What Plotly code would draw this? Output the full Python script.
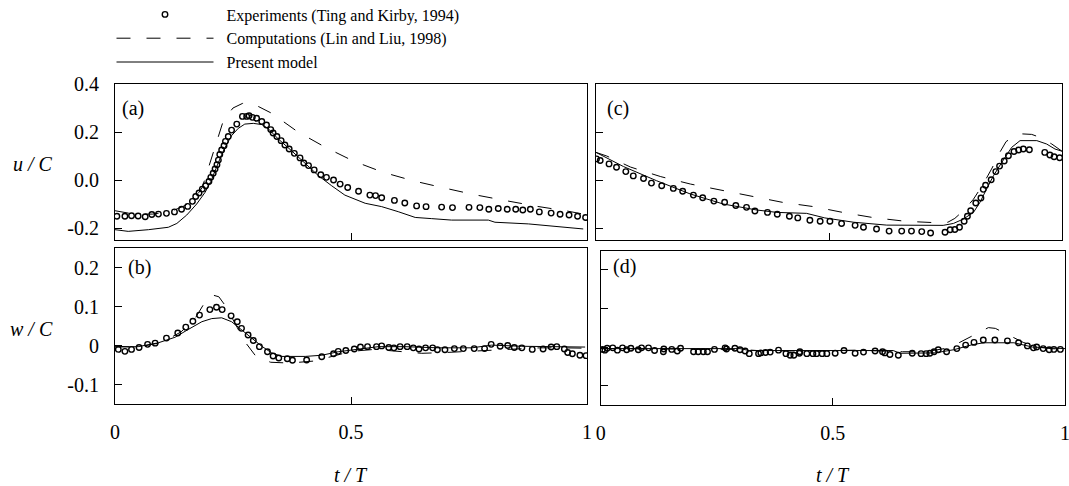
import plotly.graph_objects as go

# ---------------- data ----------------
# Panel (a): u/C, left
t_exp_a = [0.004,0.021,0.035,0.049,0.064,0.078,0.092,0.109,0.126,0.141,0.154,0.164,0.171,0.178,0.185,0.192,0.199,0.203,0.208,0.212,0.216,0.219,0.222,0.226,0.231,0.234,0.240,0.247,0.258,0.270,0.279,0.284,0.291,0.300,0.311,0.321,0.330,0.335,0.343,0.352,0.360,0.369,0.380,0.392,0.400,0.410,0.422,0.436,0.448,0.463,0.477,0.493,
           0.516,0.540,0.552,0.565,0.592,0.614,0.639,0.659,0.692,0.715,0.750,0.773,0.792,0.812,0.831,0.849,0.864,0.880,0.899,0.924,0.943,0.962,0.980,0.997]
u_exp_a = [-0.151,-0.151,-0.149,-0.150,-0.153,-0.144,-0.142,-0.139,-0.133,-0.122,-0.110,-0.089,-0.069,-0.054,-0.038,-0.024,-0.006,0.011,0.028,0.046,0.064,0.083,0.106,0.125,0.143,0.161,0.181,0.208,0.233,0.265,0.265,0.268,0.261,0.257,0.244,0.229,0.210,0.196,0.181,0.164,0.146,0.129,0.111,0.092,0.071,0.060,0.042,0.022,0.011,0.000,-0.017,-0.031,
           -0.047,-0.063,-0.065,-0.074,-0.085,-0.096,-0.108,-0.111,-0.113,-0.115,-0.114,-0.115,-0.122,-0.119,-0.122,-0.122,-0.125,-0.122,-0.133,-0.138,-0.143,-0.146,-0.151,-0.156]
t_lin_a = [0.0,0.04,0.08,0.12,0.15,0.175,0.185,0.195,0.205,0.215,0.23,0.25,0.27,0.285,0.30,0.332,0.387,0.446,0.505,0.568,0.633,0.697,0.761,0.828,0.895,0.957,1.0]
u_lin_a = [-0.128,-0.142,-0.142,-0.130,-0.105,-0.060,-0.030,0.030,0.100,0.160,0.250,0.300,0.319,0.322,0.310,0.278,0.201,0.136,0.079,0.032,-0.004,-0.033,-0.061,-0.086,-0.110,-0.129,-0.145]
t_mod_a = [0.0,0.028,0.071,0.113,0.131,0.152,0.173,0.191,0.203,0.215,0.226,0.237,0.247,0.261,0.275,0.293,0.311,0.325,0.346,0.374,0.403,0.431,0.459,0.487,0.530,0.565,0.600,0.636,0.671,0.713,0.791,0.805,0.876,0.939,0.992]
u_mod_a = [-0.207,-0.214,-0.207,-0.197,-0.181,-0.146,-0.100,-0.051,-0.006,0.053,0.106,0.150,0.185,0.215,0.233,0.236,0.231,0.213,0.171,0.122,0.067,0.018,-0.024,-0.063,-0.097,-0.111,-0.132,-0.156,-0.161,-0.167,-0.167,-0.176,-0.183,-0.194,-0.204]

# Panel (b): w/C, left
t_exp_b = [0.007,0.021,0.035,0.051,0.069,0.085,0.109,0.133,0.150,0.165,0.179,0.201,0.215,0.227,0.246,0.259,0.268,0.282,0.293,0.306,0.323,0.335,0.347,0.365,0.376,0.406,0.438,0.463,0.473,0.489,0.507,0.520,0.535,0.554,0.565,0.580,0.591,0.604,0.619,0.632,0.644,0.658,0.673,0.683,0.699,0.719,0.738,0.761,0.783,0.797,0.816,0.832,0.846,0.862,0.884,0.907,0.924,0.936,0.952,0.959,0.969,0.985,0.998]
w_exp_b = [-0.010,-0.015,-0.010,-0.005,0.003,0.006,0.019,0.032,0.047,0.062,0.078,0.092,0.098,0.092,0.076,0.061,0.044,0.027,0.013,-0.003,-0.016,-0.027,-0.032,-0.034,-0.038,-0.037,-0.029,-0.021,-0.015,-0.013,-0.009,-0.004,-0.003,-0.003,-0.001,-0.005,-0.006,-0.003,-0.003,-0.006,-0.009,-0.006,-0.006,-0.011,-0.011,-0.008,-0.008,-0.008,-0.008,0.003,-0.002,0.000,-0.005,-0.006,-0.010,-0.009,-0.004,-0.003,-0.009,-0.018,-0.021,-0.025,-0.026]
t_lin_b = [0.0,0.05,0.10,0.14,0.17,0.19,0.205,0.22,0.235,0.255,0.275,0.30,0.33,0.37,0.42,0.46,0.50,0.55,0.60,0.65,0.70,0.75,0.80,0.85,0.90,0.95,1.0]
w_lin_b = [-0.002,-0.004,0.008,0.035,0.070,0.110,0.130,0.125,0.100,0.055,0.010,-0.030,-0.043,-0.045,-0.040,-0.028,-0.015,-0.010,-0.015,-0.020,-0.018,-0.015,-0.012,-0.008,-0.006,-0.006,-0.007]
t_mod_b = [0.0,0.049,0.092,0.127,0.155,0.184,0.205,0.226,0.247,0.268,0.290,0.311,0.332,0.353,0.403,0.438,0.473,0.516,0.558,0.614,0.685,0.756,0.798,0.862,0.932,0.996]
w_mod_b = [-0.004,-0.003,0.007,0.021,0.041,0.061,0.069,0.071,0.061,0.041,0.020,-0.002,-0.019,-0.028,-0.028,-0.025,-0.016,-0.009,-0.003,-0.003,-0.006,-0.006,0.001,-0.002,-0.003,-0.004]

# Panel (c): u/C, right
t_exp_c = [0.001,0.009,0.028,0.044,0.064,0.080,0.102,0.119,0.141,0.166,0.186,0.209,0.229,0.253,0.276,0.300,0.323,0.341,0.368,0.389,0.415,0.433,0.459,0.481,
           0.502,0.527,0.556,0.574,0.602,0.629,0.656,0.677,0.699,0.718,0.749,0.760,0.770,0.780,0.790,0.797,0.804,0.815,0.826,0.831,0.836,0.848,0.858,0.866,0.876,0.885,0.897,0.907,0.917,0.930,0.963,0.974,0.983,0.995]
u_exp_c = [0.088,0.081,0.067,0.053,0.035,0.017,0.006,-0.013,-0.024,-0.035,-0.047,-0.063,-0.074,-0.088,-0.093,-0.106,-0.114,-0.129,-0.135,-0.143,-0.151,-0.158,-0.168,-0.172,
           -0.172,-0.181,-0.189,-0.197,-0.204,-0.213,-0.213,-0.213,-0.215,-0.221,-0.218,-0.207,-0.206,-0.197,-0.172,-0.151,-0.128,-0.096,-0.075,-0.039,-0.022,0.001,0.035,0.058,0.079,0.101,0.119,0.125,0.129,0.126,0.115,0.104,0.097,0.093]
t_lin_c = [0.0,0.023,0.074,0.139,0.203,0.271,0.335,0.400,0.467,0.532,0.596,0.664,0.730,0.755,0.770,0.790,0.810,0.830,0.850,0.865,0.880,0.900,0.915,0.935,0.955,0.978,1.0]
u_lin_c = [0.115,0.100,0.054,0.014,-0.017,-0.044,-0.069,-0.093,-0.111,-0.136,-0.157,-0.172,-0.178,-0.176,-0.160,-0.125,-0.080,-0.020,0.050,0.110,0.160,0.186,0.192,0.190,0.176,0.150,0.120]
t_mod_c = [0.0,0.059,0.130,0.202,0.273,0.345,0.388,0.452,0.491,0.553,0.624,0.695,0.745,0.767,0.788,0.810,0.824,0.838,0.853,0.871,0.892,0.910,0.946,0.967,0.985,1.0]
u_mod_c = [0.115,0.056,-0.003,-0.058,-0.100,-0.125,-0.135,-0.139,-0.158,-0.176,-0.188,-0.190,-0.189,-0.181,-0.163,-0.135,-0.093,-0.038,0.018,0.074,0.136,0.164,0.164,0.150,0.129,0.120]

# Panel (d): w/C, right
t_exp_d = [0.004,0.009,0.014,0.026,0.036,0.047,0.056,0.065,0.081,0.088,0.103,0.116,0.135,0.136,0.153,0.165,0.172,0.200,0.210,0.221,0.230,0.245,0.268,0.271,0.289,0.300,0.311,0.320,0.340,0.345,0.355,0.365,0.383,0.399,0.408,0.416,0.428,0.429,0.444,0.457,0.465,0.477,0.487,0.505,0.524,0.548,0.566,0.591,0.607,0.612,0.623,0.641,0.671,0.690,0.701,0.709,0.718,0.727,0.745,0.767,0.786,0.804,0.824,0.849,0.876,0.900,0.919,0.932,0.939,0.953,0.966,0.976,0.990]
w_exp_d = [-0.006,-0.008,-0.003,-0.002,-0.008,-0.002,-0.007,-0.003,-0.007,-0.002,-0.002,-0.009,-0.012,-0.005,-0.006,-0.010,-0.003,-0.012,-0.012,-0.012,-0.012,-0.006,-0.002,-0.005,-0.003,-0.007,-0.010,-0.017,-0.017,-0.015,-0.014,-0.013,-0.008,-0.017,-0.021,-0.021,-0.016,-0.012,-0.017,-0.017,-0.017,-0.017,-0.017,-0.016,-0.009,-0.016,-0.013,-0.010,-0.012,-0.015,-0.019,-0.021,-0.016,-0.017,-0.017,-0.016,-0.012,-0.007,-0.012,-0.004,0.005,0.012,0.018,0.018,0.016,0.011,0.003,-0.002,0.000,-0.004,-0.007,-0.006,-0.006]
t_lin_d = [0.0,0.10,0.30,0.35,0.45,0.55,0.65,0.70,0.74,0.77,0.80,0.835,0.85,0.88,0.91,0.94,0.97,1.0]
w_lin_d = [-0.004,-0.005,-0.006,-0.010,-0.010,-0.008,-0.012,-0.012,-0.004,0.010,0.028,0.050,0.048,0.030,0.012,0.000,-0.004,-0.006]
t_mod_d = [0.0,0.30,0.32,0.63,0.645,0.72,0.76,0.80,0.825,0.89,0.93,0.97,1.0]
w_mod_d = [-0.004,-0.004,-0.009,-0.009,-0.016,-0.015,-0.007,0.006,0.011,0.011,0.000,-0.003,-0.004]

x_tickvals = [0, 0.5, 1]
x_ticktext = ["0", "0.5", "1"]
u_tickvals = [0.4, 0.2, 0.0, -0.2]
u_ticktext = ["0.4", "0.2", "0.0", "-0.2"]
w_tickvals = [0.2, 0.1, 0.0, -0.1]
w_ticktext = ["0.2", "0.1", "0", "-0.1"]

names = ["Experiments (Ting and Kirby, 1994)", "Computations (Lin and Liu, 1998)", "Present model"]

# ---------------- figure ----------------
W, H = 1069, 486
SERIF = "Liberation Serif, Times New Roman, serif"
NB = "\u00a0\u00a0"

def px_x(a, b):
    return [a / W, b / W]

def px_y(top, bottom):
    return [1 - bottom / H, 1 - top / H]

fig = go.Figure()

panels = [
    ("x", "y", t_exp_a, u_exp_a, t_lin_a, u_lin_a, t_mod_a, u_mod_a, True),
    ("x2", "y2", t_exp_b, w_exp_b, t_lin_b, w_lin_b, t_mod_b, w_mod_b, False),
    ("x3", "y3", t_exp_c, u_exp_c, t_lin_c, u_lin_c, t_mod_c, u_mod_c, False),
    ("x4", "y4", t_exp_d, w_exp_d, t_lin_d, w_lin_d, t_mod_d, w_mod_d, False),
]

for xa, ya, te, ve, tl, vl, tm, vm, show in panels:
    fig.add_trace(go.Scatter(x=tm, y=vm, mode="lines", xaxis=xa, yaxis=ya,
                             line=dict(color="black", width=1), name=NB + names[2],
                             showlegend=show, legendrank=3))
    fig.add_trace(go.Scatter(x=tl, y=vl, mode="lines", xaxis=xa, yaxis=ya,
                             line=dict(color="black", width=1, dash="14px,16px"), name=NB + names[1],
                             showlegend=show, legendrank=2))
    fig.add_trace(go.Scatter(x=te, y=ve, mode="markers", xaxis=xa, yaxis=ya,
                             marker=dict(symbol="circle-open", size=5.5, color="black",
                                         line=dict(width=1.4, color="black")),
                             name=NB + names[0], showlegend=show, legendrank=1))

axis_common = dict(showline=True, linecolor="black", linewidth=1, mirror=True,
                   ticks="inside", ticklen=7, tickwidth=1, tickcolor="black",
                   showgrid=False, zeroline=False,
                   tickfont=dict(family=SERIF, size=20, color="black"))

fig.update_layout(
    width=W, height=H,
    margin=dict(l=0, r=0, t=0, b=0, autoexpand=False),
    paper_bgcolor="white", plot_bgcolor="white",
    showlegend=True,
    legend=dict(x=111.5 / W, y=1 + 2.5 / H, xanchor="left", yanchor="top",
                font=dict(family=SERIF, size=16, color="black"),
                bgcolor="rgba(0,0,0,0)", itemwidth=97, tracegroupgap=0),
    xaxis=dict(domain=px_x(115, 587), range=[0, 1], anchor="y",
               tickvals=[0.5], showticklabels=False, **axis_common),
    yaxis=dict(domain=px_y(84, 240), range=[-0.25, 0.4], anchor="x",
               tickvals=u_tickvals, ticktext=u_ticktext, ticklabelstandoff=11, **axis_common),
    xaxis2=dict(domain=px_x(115, 587), range=[0, 1], anchor="y2",
                tickvals=x_tickvals, ticktext=x_ticktext, ticklabelstandoff=10,
                ticklabeloverflow="allow", **axis_common),
    yaxis2=dict(domain=px_y(248, 404), range=[-0.15, 0.25], anchor="x2",
                tickvals=w_tickvals, ticktext=w_ticktext, ticklabelstandoff=11, **axis_common),
    xaxis3=dict(domain=px_x(596, 1062), range=[0, 1], anchor="y3",
                tickvals=[0.5], showticklabels=False, **axis_common),
    yaxis3=dict(domain=px_y(84, 240), range=[-0.25, 0.4], anchor="x3",
                tickvals=u_tickvals, showticklabels=False, **axis_common),
    xaxis4=dict(domain=px_x(600.7, 1065), range=[0, 1], anchor="y4",
                tickvals=x_tickvals, ticktext=x_ticktext, ticklabelstandoff=10,
                ticklabeloverflow="allow", **axis_common),
    yaxis4=dict(domain=px_y(251, 405), range=[-0.149, 0.247], anchor="x4",
                tickvals=w_tickvals, showticklabels=False, **axis_common),
)

annot_font = dict(family=SERIF, size=20, color="black")
ann = [
    ("(a)", 120 / W, 1 - 108 / H),
    ("(b)", 126 / W, 1 - 267 / H),
    ("(c)", 605 / W, 1 - 108 / H),
    ("(d)", 611 / W, 1 - 266 / H),
]
for txt, ax_, ay_ in ann:
    fig.add_annotation(text=txt, x=ax_, y=ay_, xref="paper", yref="paper",
                       xanchor="left", yanchor="middle", showarrow=False, font=annot_font)

for txt, ax_, ay_ in [("<i>u / C</i>", 33 / W, 1 - 164 / H),
                      ("<i>w / C</i>", 31 / W, 1 - 329 / H),
                      ("<i>t / T</i>", 351 / W, 1 - 475 / H),
                      ("<i>t / T</i>", 833 / W, 1 - 475 / H)]:
    fig.add_annotation(text=txt, x=ax_, y=ay_, xref="paper", yref="paper",
                       xanchor="center", yanchor="middle", showarrow=False, font=annot_font)

fig.write_html("out.html", config={"displayModeBar": False},
               post_script="document.body.style.margin='0';document.body.style.padding='0';")
